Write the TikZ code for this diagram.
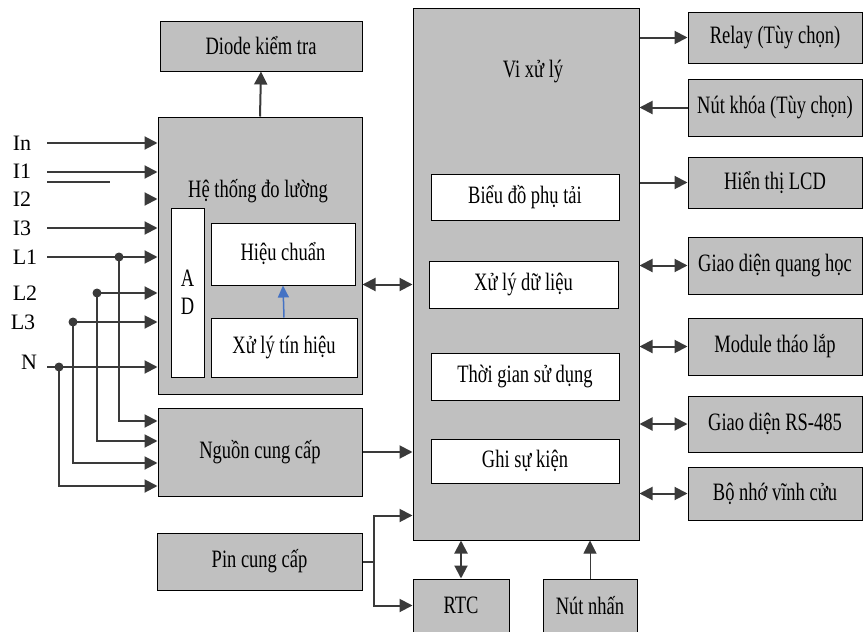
\documentclass[tikz,border=0pt]{standalone}
\usepackage{fontspec}
\setmainfont{Liberation Serif}
\newfontfamily\boxfont[FakeStretch=0.74]{Liberation Serif}
\usetikzlibrary{arrows.meta,calc}
\definecolor{boxgray}{RGB}{192,192,192}
\definecolor{linec}{RGB}{58,58,58}
\definecolor{bluec}{RGB}{68,114,196}
\newcommand\myfs{\boxfont\fontsize{25}{28}\selectfont}
\begin{document}
\begin{tikzpicture}[x=1pt,y=-1pt,
  box/.style={draw=black, line width=1pt, fill=boxgray, inner sep=0pt, font=\myfs, align=center},
  wbox/.style={draw=black, line width=1pt, fill=white, inner sep=0pt, font=\myfs, align=center},
  lbl/.style={inner sep=0pt, font=\myfs},
  inl/.style={inner sep=0pt, font=\fontsize{22}{24}\selectfont},
  arr/.style={draw=linec, line width=2pt, -{Triangle[length=13pt,width=13pt]}},
  darr/.style={draw=linec, line width=2pt, {Triangle[length=13pt,width=13pt]}-{Triangle[length=13pt,width=13pt]}},
  plain/.style={draw=linec, line width=2pt},
  dotc/.style={circle, fill=linec, inner sep=0pt, minimum size=9pt}]
\useasboundingbox (0,0) rectangle (863,632);

% left column boxes
\node[box, minimum width=202pt, minimum height=50pt] (diode) at (261,46) {Diode kiểm tra};
\node[box, minimum width=204pt, minimum height=277pt] (meas) at (260,255.5) {};
\node[lbl] (measlbl) at (258,191) {Hệ thống đo lường};
\node[wbox, minimum width=33pt, minimum height=169pt] (ad) at (187.5,292.5) {A\\D};
\node[wbox, minimum width=144pt, minimum height=62pt] (hc) at (283,254) {Hiệu chuẩn};
\node[wbox, minimum width=146pt, minimum height=59pt] (xlth) at (284,347.5) {Xử lý tín hiệu};
\node[box, minimum width=204pt, minimum height=88pt] (nguon) at (260,452) {Nguồn cung cấp};
\node[box, minimum width=205pt, minimum height=57pt] (pin) at (259.5,561.5) {Pin cung cấp};

% processor
\node[box, minimum width=226pt, minimum height=532pt] (vxl) at (526,274) {};
\node[lbl] (vxllbl) at (533,72) {Vi xử lý};
\node[wbox, minimum width=188pt, minimum height=46pt] (bd) at (525,197) {Biểu đồ phụ tải};
\node[wbox, minimum width=189pt, minimum height=47pt] (xldl) at (523.5,284.5) {Xử lý dữ liệu};
\node[wbox, minimum width=188pt, minimum height=47pt] (tg) at (525,376.5) {Thời gian sử dụng};
\node[wbox, minimum width=188pt, minimum height=44pt] (gsk) at (525,461) {Ghi sự kiện};

% bottom
\node[box, minimum width=96pt, minimum height=53pt] (rtc) at (461,605.5) {RTC};
\node[box, minimum width=94pt, minimum height=53pt] (nn) at (590,605.5) {Nút nhấn};

% right column
\node[box, minimum width=174pt, minimum height=51pt] (relay) at (775,37.5) {Relay (Tùy chọn)};
\node[box, minimum width=174pt, minimum height=57pt] (nk) at (775,107.5) {Nút khóa (Tùy chọn)};
\node[box, minimum width=174pt, minimum height=51pt] (lcd) at (775,182.5) {Hiển thị LCD};
\node[box, minimum width=174pt, minimum height=57pt] (qh) at (775,265.5) {Giao diện quang học};
\node[box, minimum width=174pt, minimum height=57pt] (mod) at (775,346.5) {Module tháo lắp};
\node[box, minimum width=174pt, minimum height=56pt] (rs) at (775,424) {Giao diện RS-485};
\node[box, minimum width=174pt, minimum height=53pt] (bn) at (775,493.5) {Bộ nhớ vĩnh cửu};

% left connectors
\draw[arr] (meas.north) -- (diode.south);
\draw[darr] (meas.east |- xldl.center) -- (vxl.west |- xldl.center);
\draw[draw=bluec, line width=1.5pt, -{Triangle[length=12pt,width=11pt]}, color=bluec] (xlth.north) -- (hc.south);
\draw[arr] (nguon.east) -- (vxl.west |- nguon.east);
\coordinate (pj) at (374,561.5);
\draw[plain] (pin.east) -- (pj);
\draw[arr] (pj) |- ([yshift=25pt]vxl.south west);
\draw[arr] (pj) |- (rtc.west);
\draw[darr] (rtc.north) -- (rtc.north |- vxl.south);
\draw[draw=linec, line width=1pt, -{Triangle[length=13pt,width=13pt]}] (nn.north) -- (nn.north |- vxl.south);

% right connectors
\draw[arr] (vxl.east |- relay.west) -- (relay.west);
\draw[arr] (nk.west) -- (vxl.east |- nk.west);
\draw[arr] (vxl.east |- lcd.west) -- (lcd.west);
\draw[darr] (vxl.east |- qh.west) -- (qh.west);
\draw[darr] (vxl.east |- mod.west) -- (mod.west);
\draw[darr] (vxl.east |- rs.west) -- (rs.west);
\draw[darr] (vxl.east |- bn.west) -- (bn.west);

% left inputs
\node[inl] (tIn) at (22,143) {In};
\node[inl] (tI1) at (22,171) {I1};
\node[inl] (tI2) at (22,199) {I2};
\node[inl] (tI3) at (22,228) {I3};
\node[inl] (tL1) at (25,257) {L1};
\node[inl] (tL2) at (25,293) {L2};
\node[inl] (tL3) at (23,322) {L3};
\node[inl] (tN) at (29,362) {N};

\coordinate (sIn) at (47,143);
\coordinate (sI1) at (47,172);
\coordinate (sI2) at (145,199);
\coordinate (sI3) at (47,228);
\coordinate (sL1) at (47,257);
\coordinate (sN) at (47,367);
\node[dotc] (dL1) at (119,257) {};
\node[dotc] (dL2) at (97,293) {};
\node[dotc] (dL3) at (73,322) {};
\node[dotc] (dN) at (59,367) {};

\draw[arr] (sIn) -- (meas.west |- sIn);
\draw[arr] (sI1) -- (meas.west |- sI1);
\draw[plain] (47,182) -- (110,182);
\draw[arr] (sI2) -- (meas.west |- sI2);
\draw[arr] (sI3) -- (meas.west |- sI3);
\draw[arr] (sL1) -- (meas.west |- sL1);
\draw[arr] (dL2.center) -- (meas.west |- dL2.center);
\draw[arr] (dL3.center) -- (meas.west |- dL3.center);
\draw[arr] (sN) -- (meas.west |- sN);

\draw[arr] (dL1.center) |- ([yshift=31pt]nguon.west);
\draw[arr] (dL2.center) |- ([yshift=11pt]nguon.west);
\draw[arr] (dL3.center) |- ([yshift=-11pt]nguon.west);
\draw[arr] (dN.center) |- ([yshift=-34pt]nguon.west);
\end{tikzpicture}
\end{document}
